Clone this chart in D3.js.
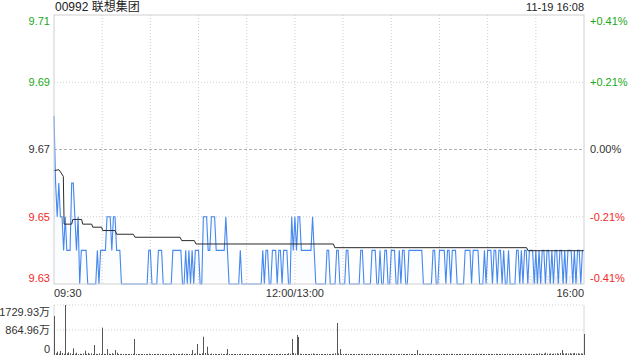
<!DOCTYPE html>
<html>
<head>
<meta charset="utf-8">
<script src="https://cdn.jsdelivr.net/npm/d3@7"></script>
<style>
    body { margin: 0; background: #fff; }
    svg { display: block; font-family: "Liberation Sans", Arial, "Noto Sans CJK SC", sans-serif; }
</style>
</head>
<body>
<svg width="640" height="360"></svg>
<script>
// 分时数据: one value per minute, 09:30 .. 16:00 (331 points)
const title = "00992 联想集团";
const stamp = "11-19 16:08";
const preClose = 9.67;

const prices = [
    9.68, 9.66, 9.65, 9.66, 9.65, 9.65, 9.64, 9.65, 9.64, 9.64,
    9.64, 9.66, 9.66, 9.65, 9.64, 9.65, 9.63, 9.64, 9.64, 9.64,
    9.64, 9.63, 9.63, 9.63, 9.63, 9.63, 9.63, 9.64, 9.63, 9.64,
    9.64, 9.64, 9.64, 9.65, 9.65, 9.65, 9.64, 9.65, 9.65, 9.64,
    9.64, 9.64, 9.63, 9.63, 9.63, 9.63, 9.63, 9.63, 9.63, 9.63,
    9.63, 9.63, 9.63, 9.63, 9.63, 9.63, 9.63, 9.63, 9.63, 9.64,
    9.64, 9.63, 9.63, 9.63, 9.63, 9.64, 9.64, 9.64, 9.63, 9.63,
    9.63, 9.63, 9.63, 9.63, 9.64, 9.64, 9.64, 9.64, 9.64, 9.64,
    9.63, 9.63, 9.64, 9.63, 9.64, 9.63, 9.64, 9.63, 9.64, 9.64,
    9.64, 9.63, 9.63, 9.65, 9.65, 9.65, 9.64, 9.64, 9.65, 9.65,
    9.65, 9.64, 9.64, 9.64, 9.64, 9.64, 9.64, 9.65, 9.64, 9.63,
    9.63, 9.63, 9.63, 9.63, 9.63, 9.63, 9.64, 9.63, 9.63, 9.63,
    9.63, 9.63, 9.63, 9.63, 9.63, 9.63, 9.63, 9.63, 9.63, 9.63,
    9.64, 9.63, 9.64, 9.64, 9.63, 9.63, 9.64, 9.64, 9.64, 9.63,
    9.64, 9.64, 9.63, 9.64, 9.64, 9.64, 9.63, 9.63, 9.65, 9.64,
    9.65, 9.64, 9.65, 9.65, 9.64, 9.64, 9.64, 9.64, 9.64, 9.64,
    9.64, 9.65, 9.64, 9.63, 9.63, 9.63, 9.63, 9.63, 9.63, 9.63,
    9.64, 9.64, 9.63, 9.63, 9.63, 9.63, 9.64, 9.64, 9.63, 9.63,
    9.63, 9.63, 9.64, 9.64, 9.63, 9.63, 9.63, 9.63, 9.63, 9.63,
    9.63, 9.64, 9.64, 9.63, 9.63, 9.63, 9.63, 9.63, 9.64, 9.64,
    9.64, 9.63, 9.63, 9.64, 9.63, 9.63, 9.64, 9.64, 9.63, 9.63,
    9.64, 9.64, 9.64, 9.63, 9.63, 9.64, 9.63, 9.64, 9.64, 9.63,
    9.63, 9.64, 9.64, 9.64, 9.64, 9.64, 9.64, 9.64, 9.64, 9.64,
    9.63, 9.63, 9.63, 9.63, 9.63, 9.63, 9.64, 9.64, 9.63, 9.63,
    9.64, 9.64, 9.64, 9.64, 9.63, 9.64, 9.64, 9.63, 9.64, 9.64,
    9.64, 9.63, 9.63, 9.63, 9.63, 9.63, 9.64, 9.64, 9.64, 9.64,
    9.63, 9.64, 9.64, 9.64, 9.64, 9.63, 9.63, 9.63, 9.64, 9.63,
    9.64, 9.64, 9.64, 9.63, 9.64, 9.64, 9.63, 9.64, 9.64, 9.63,
    9.64, 9.63, 9.63, 9.64, 9.63, 9.63, 9.63, 9.63, 9.64, 9.64,
    9.63, 9.64, 9.63, 9.64, 9.64, 9.63, 9.64, 9.64, 9.64, 9.63,
    9.64, 9.63, 9.64, 9.63, 9.64, 9.64, 9.63, 9.64, 9.64, 9.63,
    9.64, 9.63, 9.64, 9.64, 9.63, 9.64, 9.64, 9.63, 9.64, 9.63,
    9.64, 9.64, 9.64, 9.63, 9.64, 9.63, 9.64, 9.64, 9.63, 9.64,
    9.64
];

// 均价线 (average price), change points: minute index / value
const avgMinutes = [0, 3, 4.5, 5.8, 6.3, 11, 11.7, 17.2, 17.9, 23.5, 24.1, 29.7, 30.3, 38, 39,
                    49.4, 50.4, 78.5, 79.5, 87.4, 88.4, 174, 174.8, 294.3, 295.1, 330];
const avgValues  = [9.6637, 9.664, 9.663, 9.662, 9.6478, 9.6478, 9.6492, 9.6492, 9.6478, 9.6478,
                    9.6469, 9.6469, 9.6459, 9.6459, 9.6448, 9.6448, 9.6439, 9.6439, 9.6429, 9.6429,
                    9.6419, 9.6419, 9.6408, 9.6408, 9.6399, 9.6399];

// 成交量 (万) per minute
const volumes = [
    1349, 60, 115, 45, 140, 70, 40, 1729.93, 55, 90,
    60, 35, 230, 40, 80, 30, 45, 25, 50, 150,
    40, 70, 30, 60, 35, 346, 40, 30, 55, 25,
    945, 40, 35, 207, 45, 30, 60, 40, 170, 80,
    35, 25, 40, 30, 20, 35, 25, 30, 20, 40,
    553, 30, 25, 35, 20, 30, 25, 20, 35, 45,
    30, 25, 20, 35, 25, 40, 30, 25, 20, 30,
    25, 20, 35, 30, 60, 25, 30, 20, 35, 25,
    50, 30, 40, 25, 35, 30, 170, 40, 55, 380,
    45, 30, 60, 633, 70, 287, 40, 35, 50, 30,
    40, 25, 35, 30, 45, 25, 30, 40, 207, 35,
    25, 30, 20, 25, 35, 20, 40, 25, 20, 30,
    20, 25, 30, 20, 25, 35, 20, 25, 30, 20,
    35, 25, 30, 20, 40, 25, 30, 35, 20, 30,
    25, 40, 30, 35, 25, 30, 60, 45, 553, 70,
    50, 692, 623, 45, 35, 30, 40, 25, 35, 30,
    40, 55, 30, 35, 25, 30, 20, 25, 35, 30,
    40, 25, 30, 35, 45, 60, 1107, 50, 207, 35,
    30, 25, 40, 30, 25, 35, 20, 30, 25, 35,
    30, 40, 25, 30, 20, 35, 25, 30, 45, 25,
    30, 35, 25, 40, 30, 20, 35, 30, 25, 40,
    30, 25, 35, 20, 30, 25, 40, 30, 35, 25,
    30, 40, 25, 35, 30, 20, 170, 40, 30, 25,
    35, 30, 25, 40, 30, 35, 25, 30, 20, 35,
    30, 25, 40, 30, 35, 25, 30, 45, 25, 30,
    35, 25, 30, 40, 25, 30, 35, 25, 40, 30,
    25, 35, 30, 45, 25, 30, 40, 35, 25, 30,
    40, 30, 25, 35, 30, 45, 25, 30, 35, 40,
    30, 25, 45, 35, 30, 40, 25, 35, 30, 45,
    35, 40, 30, 50, 35, 30, 45, 40, 35, 30,
    45, 35, 60, 40, 35, 50, 80, 45, 40, 55,
    35, 50, 45, 60, 40, 70, 170, 55, 45, 60,
    50, 65, 45, 55, 70, 50, 60, 45, 55, 50,
    727
];

// axis ticks
const priceTicks = [9.63, 9.65, 9.67, 9.69, 9.71];
const pctLabels = ["-0.41%", "-0.21%", "0.00%", "+0.21%", "+0.41%"];
const timeMinutes = [0, 150, 330];
const timeLabels = ["09:30", "12:00/13:00", "16:00"];
const gridMinutes = [30, 60, 90, 120, 150, 180, 210, 240, 270, 300];
const volTicks = [0, 864.96, 1729.93];
const volLabels = ["0", "864.96万", "1729.93万"];

const svg = d3.select("svg");

const area = { left: 54, right: 584, top: 15, bottom: 284, volTop: 305, volBottom: 355 };

const GREEN = "#1aa81a", RED = "#f02828", DARK = "#333";
const tickColor = v => v > preClose + 1e-9 ? GREEN : (v < preClose - 1e-9 ? RED : DARK);

const scX = d3.scaleLinear().domain([0, 330]).range([area.left, area.right]);
const scY = d3.scaleLinear().domain([9.63, 9.71]).range([area.bottom, area.top]);
const scV = d3.scaleLinear().domain([0, 1729.93]).range([area.volBottom, area.volTop]);

// gradient for area under price line
const grad = svg.append("defs").append("linearGradient")
    .attr("id", "fillGrad")
    .attr("gradientUnits", "userSpaceOnUse")
    .attr("x1", 0).attr("y1", area.top).attr("x2", 0).attr("y2", area.bottom);
grad.append("stop").attr("offset", 0).attr("stop-color", "#4a8cf0").attr("stop-opacity", 0.12);
grad.append("stop").attr("offset", 1).attr("stop-color", "#4a8cf0").attr("stop-opacity", 0.01);

// watermark
svg.append("text")
    .attr("x", 553).attr("y", 283)
    .attr("text-anchor", "middle")
    .style("font-size", "13px")
    .style("fill", "#e6e6e6")
    .text("sina.com");

// horizontal grid in price panel
svg.selectAll("line.hgrid")
    .data(priceTicks.filter(d => d !== 9.63 && d !== 9.71))
    .enter()
    .append("line")
    .attr("class", "hgrid")
    .attr("x1", area.left).attr("x2", area.right)
    .attr("y1", d => scY(d)).attr("y2", d => scY(d))
    .style("stroke", d => d === preClose ? "#b0b0b0" : "#cfcfcf")
    .style("stroke-dasharray", d => d === preClose ? "3,2" : "1,2");

// vertical grid
svg.selectAll("line.vgrid")
    .data(gridMinutes)
    .enter()
    .append("line")
    .attr("class", "vgrid")
    .attr("x1", d => scX(d)).attr("x2", d => scX(d))
    .attr("y1", area.top).attr("y2", area.bottom)
    .style("stroke", "#cfcfcf")
    .style("stroke-dasharray", "1,2");

// price area + line
const series = prices.map((p, i) => ({ m: i, p: p }));

svg.append("path")
    .datum(series)
    .attr("d", d3.area().x(d => scX(d.m)).y0(area.bottom).y1(d => scY(d.p)))
    .style("fill", "url(#fillGrad)");

svg.append("path")
    .datum(series)
    .attr("d", d3.line().x(d => scX(d.m)).y(d => scY(d.p)))
    .style("fill", "none")
    .style("stroke", "#4588ef")
    .style("stroke-width", 1.1);

// average line
const avgSeries = avgMinutes.map((m, i) => ({ m: m, p: avgValues[i] }));
svg.append("path")
    .datum(avgSeries)
    .attr("d", d3.line().x(d => scX(d.m)).y(d => scY(d.p)))
    .style("fill", "none")
    .style("stroke", "#2a2a2a")
    .style("stroke-width", 1);

// price panel frame
svg.append("rect")
    .attr("x", area.left).attr("y", area.top)
    .attr("width", area.right - area.left).attr("height", area.bottom - area.top)
    .style("fill", "none")
    .style("stroke", "#d0d0d0");

// left price labels, top and bottom nudged inside
const labelY = (y, i, n) => i === 0 ? y - 6 : (i === n - 1 ? y + 6 : y);

svg.selectAll("text.pl")
    .data(priceTicks)
    .enter()
    .append("text")
    .attr("class", "pl")
    .attr("x", area.left - 4)
    .attr("y", (d, i) => labelY(scY(d), i, priceTicks.length))
    .attr("dy", "0.35em")
    .attr("text-anchor", "end")
    .style("font-size", "11px")
    .style("fill", d => tickColor(d))
    .text(d => d.toFixed(2));

svg.selectAll("text.pr")
    .data(priceTicks)
    .enter()
    .append("text")
    .attr("class", "pr")
    .attr("x", area.right + 6)
    .attr("y", (d, i) => labelY(scY(d), i, priceTicks.length))
    .attr("dy", "0.35em")
    .attr("text-anchor", "start")
    .style("font-size", "11px")
    .style("fill", d => tickColor(d))
    .text((d, i) => pctLabels[i]);

// time labels
svg.selectAll("text.tl")
    .data(timeMinutes)
    .enter()
    .append("text")
    .attr("class", "tl")
    .attr("x", d => scX(d))
    .attr("y", 297)
    .attr("text-anchor", (d, i) => ["start", "middle", "end"][i])
    .style("font-size", "11px")
    .style("fill", DARK)
    .text((d, i) => timeLabels[i]);

// title and time stamp
svg.append("text")
    .attr("x", area.left + 1).attr("y", 11)
    .style("font-size", "12px")
    .style("fill", "#222")
    .text(title);

svg.append("text")
    .attr("x", area.right).attr("y", 11)
    .attr("text-anchor", "end")
    .style("font-size", "11px")
    .style("fill", "#222")
    .text(stamp);

// volume panel grid
svg.selectAll("line.vol")
    .data(volTicks.slice(1))
    .enter()
    .append("line")
    .attr("class", "vol")
    .attr("x1", area.left).attr("x2", area.right)
    .attr("y1", d => scV(d)).attr("y2", d => scV(d))
    .style("stroke", "#cfcfcf")
    .style("stroke-dasharray", "1,2");

svg.selectAll("line.vborder")
    .data([area.left, area.right])
    .enter()
    .append("line")
    .attr("class", "vborder")
    .attr("x1", d => d).attr("x2", d => d)
    .attr("y1", area.volTop).attr("y2", area.volBottom)
    .style("stroke", "#d8d8d8");

// volume bars
svg.selectAll("line.vbar")
    .data(volumes)
    .enter()
    .append("line")
    .attr("class", "vbar")
    .attr("x1", (d, i) => Math.round(scX(i)) + 0.5)
    .attr("x2", (d, i) => Math.round(scX(i)) + 0.5)
    .attr("y1", area.volBottom)
    .attr("y2", d => Math.min(scV(d), area.volBottom - 1))
    .style("stroke", "#555")
    .style("stroke-width", 1);

// volume labels
svg.selectAll("text.vl")
    .data(volTicks)
    .enter()
    .append("text")
    .attr("class", "vl")
    .attr("x", area.left - 4)
    .attr("y", (d, i) => i === 0 ? scV(d) - 6 : (i === 2 ? scV(d) + 7 : scV(d)))
    .attr("dy", "0.35em")
    .attr("text-anchor", "end")
    .style("font-size", "11px")
    .style("fill", DARK)
    .text((d, i) => volLabels[i]);
</script>
</body>
</html>
